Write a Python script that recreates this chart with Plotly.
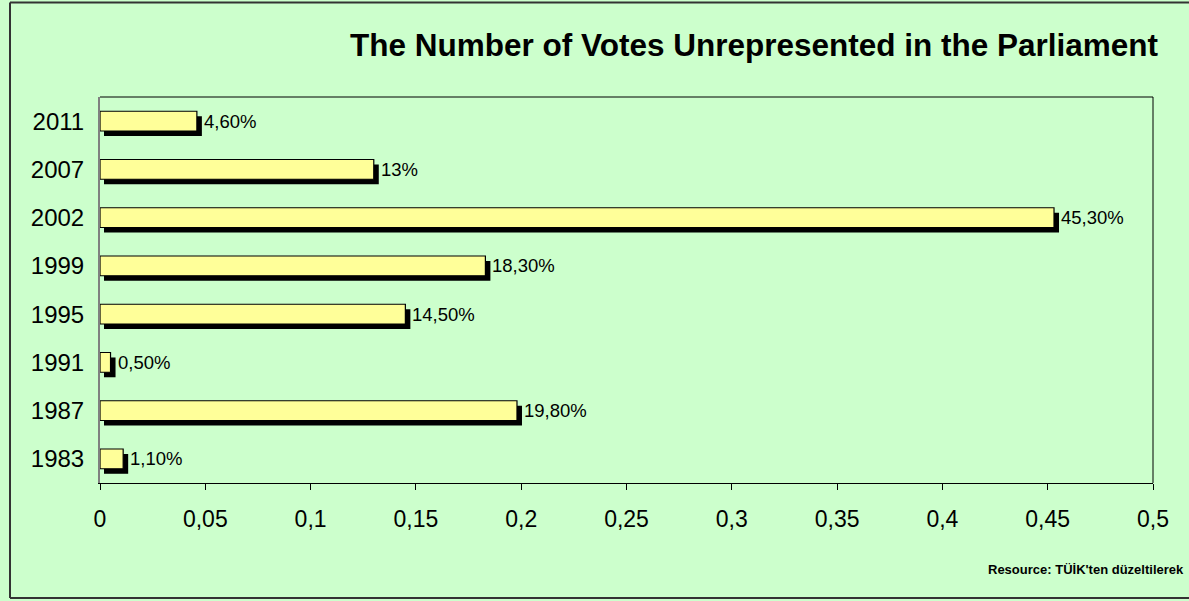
import plotly.graph_objects as go

# Election years (bottom to top) and share of votes left without representation
years = ["1983", "1987", "1991", "1995", "1999", "2002", "2007", "2011"]
unrepresented = [0.011, 0.198, 0.005, 0.145, 0.183, 0.453, 0.13, 0.046]

x_tick_vals = [0, 0.05, 0.1, 0.15, 0.2, 0.25, 0.3, 0.35, 0.4, 0.45, 0.5]
x_tick_text = ["0", "0,05", "0,1", "0,15", "0,2", "0,25", "0,3", "0,35", "0,4", "0,45", "0,5"]

title_text = "The Number of Votes Unrepresented in the Parliament"
source_text = "Resource: TÜİK'ten düzeltilerek"

W, H = 1189, 601
L, R, T, B = 100, 1153, 97, 483  # plot area in pixels
BG = "#CCFFCC"
BAR = "#FFFF99"
FONT = "Arial, Liberation Sans, sans-serif"

x_per_px = 0.5 / (R - L)
y_per_px = len(years) / (B - T)


def px_x(px):
    return (px - L) / (R - L)


def px_y(py):
    return (B - py) / (B - T)


def pct_label(v):
    p = round(v * 100, 2)
    if abs(p - round(p)) < 1e-9:
        return f"{int(round(p))}%"
    return f"{p:.2f}".replace(".", ",") + "%"


pos = list(range(len(years)))
bar_w = 0.41
sdx, sdy = 5 * x_per_px, 5 * y_per_px

fig = go.Figure()

# drop shadow under each bar
fig.add_trace(go.Bar(
    y=[p - sdy for p in pos],
    x=[v + sdx - 4 * x_per_px for v in unrepresented],
    base=4 * x_per_px,
    orientation="h",
    width=bar_w,
    marker=dict(color="black", line=dict(width=0)),
    hoverinfo="skip",
    showlegend=False,
))

# main bars
fig.add_trace(go.Bar(
    y=pos,
    x=unrepresented,
    orientation="h",
    width=bar_w,
    marker=dict(color=BAR, line=dict(color="black", width=1.2)),
    showlegend=False,
))

annotations = []
for p, v in zip(pos, unrepresented):
    annotations.append(dict(
        x=v + sdx, y=p, xref="x", yref="y",
        text=pct_label(v), showarrow=False,
        xanchor="left", yanchor="middle", xshift=0,
        font=dict(family=FONT, size=18.5, color="black"),
    ))

annotations.append(dict(
    x=px_x(754), y=px_y(45), xref="paper", yref="paper",
    text=f"<b>{title_text}</b>", showarrow=False,
    xanchor="center", yanchor="middle",
    font=dict(family=FONT, size=31.5, color="black"),
))
annotations.append(dict(
    x=px_x(1186), y=px_y(569), xref="paper", yref="paper",
    text=f"<b>{source_text}</b>", showarrow=False,
    xanchor="right", yanchor="middle",
    font=dict(family=FONT, size=13, color="black"),
))

frame = dict(color="#333333", width=2)
shapes = [
    # outer frame: left, top and bottom edges
    dict(type="line", xref="paper", yref="paper",
         x0=px_x(10), x1=px_x(10), y0=px_y(598), y1=px_y(2.5), line=frame),
    dict(type="line", xref="paper", yref="paper",
         x0=px_x(10), x1=px_x(W), y0=px_y(2.5), y1=px_y(2.5), line=frame),
    dict(type="line", xref="paper", yref="paper",
         x0=px_x(10), x1=px_x(W), y0=px_y(598), y1=px_y(598), line=frame),
    # plot area top and right edges
    dict(type="line", xref="paper", yref="paper",
         x0=0, x1=1, y0=1, y1=1, line=dict(color="black", width=1)),
    dict(type="line", xref="paper", yref="paper",
         x0=1, x1=1, y0=0, y1=1, line=dict(color="black", width=1)),
]

fig.update_layout(
    width=W, height=H,
    margin=dict(l=L, r=W - R, t=T, b=H - B, pad=0),
    paper_bgcolor=BG, plot_bgcolor=BG,
    barmode="overlay",
    font=dict(family=FONT, color="black"),
    annotations=annotations,
    shapes=shapes,
    xaxis=dict(
        range=[0, 0.5], tickvals=x_tick_vals, ticktext=x_tick_text,
        showgrid=False, zeroline=False,
        showline=True, linecolor="black", linewidth=1,
        ticks="outside", ticklen=6, tickcolor="black", tickwidth=1,
        tickfont=dict(family=FONT, size=23),
        ticklabelstandoff=9,
    ),
    yaxis=dict(
        range=[-0.5, len(years) - 0.5], tickvals=pos, ticktext=years,
        showgrid=False, zeroline=False,
        showline=True, linecolor="#808080", linewidth=2,
        ticks="", tickfont=dict(family=FONT, size=24),
        ticklabelstandoff=9,
    ),
)

fig.write_html("out.html")
